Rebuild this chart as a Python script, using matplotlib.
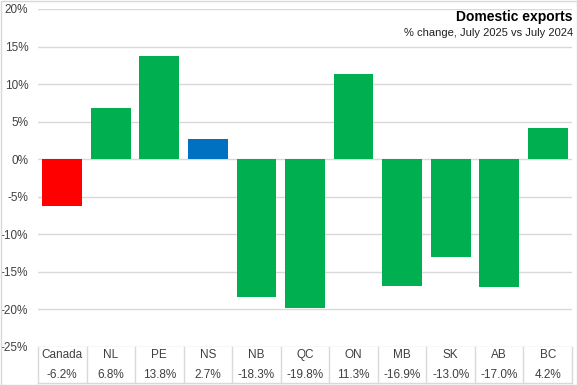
import matplotlib
matplotlib.use("Agg")
import matplotlib.pyplot as plt
from matplotlib.transforms import blended_transform_factory
from matplotlib.patches import Rectangle

categories = ["Canada", "NL", "PE", "NS", "NB", "QC", "ON", "MB", "SK", "AB", "BC"]
values = [-6.2, 6.8, 13.8, 2.7, -18.3, -19.8, 11.3, -16.9, -13.0, -17.0, 4.2]
value_labels = ["-6.2%", "6.8%", "13.8%", "2.7%", "-18.3%", "-19.8%", "11.3%", "-16.9%", "-13.0%", "-17.0%", "4.2%"]
colors = ["#FF0000", "#00B050", "#00B050", "#0070C0", "#00B050", "#00B050",
          "#00B050", "#00B050", "#00B050", "#00B050", "#00B050"]
yticks = [-25, -20, -15, -10, -5, 0, 5, 10, 15, 20]

plt.rcParams['font.family'] = ['Liberation Sans', 'DejaVu Sans']

fig = plt.figure(figsize=(5.77, 3.85), dpi=100)
ax = fig.add_axes([38/577, 1-347/385, 534/577, 338/385])

x = list(range(len(categories)))
ax.bar(x, values, width=0.82, color=colors, zorder=3)
ax.set_xlim(-0.5, len(categories)-0.5)
ax.set_ylim(-25, 20)
ax.set_yticks(yticks)
ax.set_yticklabels([f"{t}%" for t in yticks], fontsize=8.5, color="#404040")
ax.tick_params(axis='y', length=0, pad=7)
ax.set_xticks([])
for s in ax.spines.values():
    s.set_visible(False)
ax.grid(axis='y', color="#D9D9D9", linewidth=1, zorder=0)
ax.set_axisbelow(True)

trans = blended_transform_factory(ax.transData, ax.transAxes)
ybot = (347-383)/338
for i in range(len(categories)+1):
    ax.plot([i-0.5, i-0.5], [0, ybot], transform=trans, color="#D9D9D9", lw=1, clip_on=False)
ax.plot([-0.5, len(categories)-0.5], [ybot, ybot], transform=trans, color="#D9D9D9", lw=1, clip_on=False)
for i, (c, v) in enumerate(zip(categories, value_labels)):
    ax.text(i, (347-355)/338, c, transform=trans, ha='center', va='center', fontsize=8.5, color="#404040")
    ax.text(i, (347-375)/338, v, transform=trans, ha='center', va='center', fontsize=8.5, color="#404040")

fig.text(573/577, 1-17/385, "Domestic exports", ha='right', va='center', fontsize=10,
         fontweight='bold', family=['Liberation Sans Narrow', 'Liberation Sans', 'DejaVu Sans'], color="#000000")
fig.text(573/577, 1-33/385, "% change, July 2025 vs July 2024", ha='right', va='center', fontsize=8,
         family=['Liberation Sans Narrow', 'Liberation Sans', 'DejaVu Sans'], color="#202020")

fig.patches.append(Rectangle((0.5/577, 0.5/385), 576/577, 384/385, transform=fig.transFigure,
                             fill=False, edgecolor="#D9D9D9", lw=1))
fig.savefig("out.png", dpi=100)
